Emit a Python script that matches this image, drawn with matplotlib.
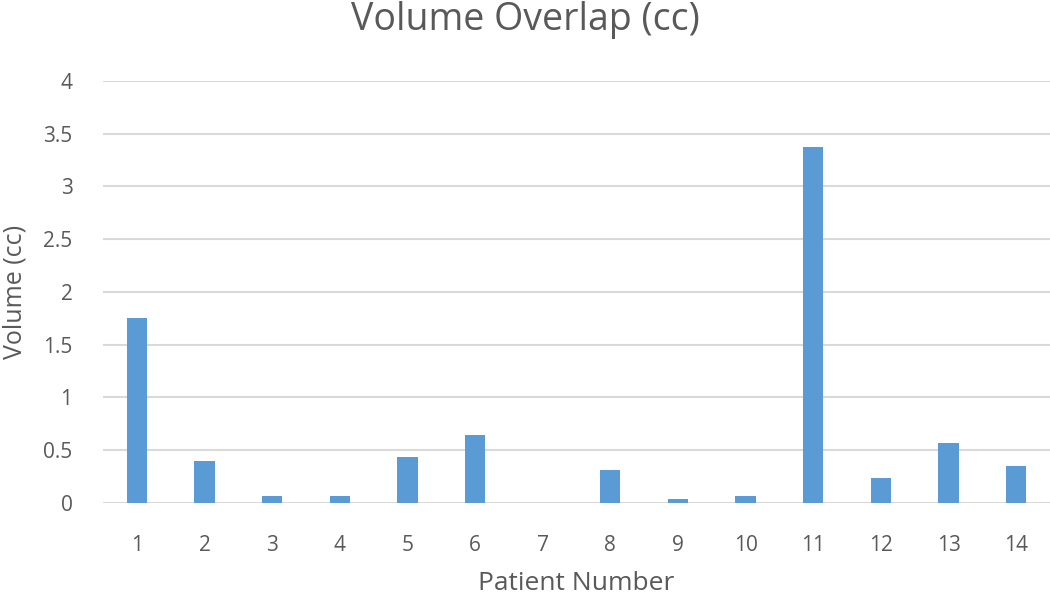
import matplotlib.pyplot as plt
import numpy as np

patients = [str(i) for i in range(1, 15)]
volumes = [1.75, 0.40, 0.07, 0.07, 0.44, 0.64, 0.0, 0.31, 0.04, 0.07, 3.37, 0.24, 0.57, 0.35]
y_ticks = [0, 0.5, 1, 1.5, 2, 2.5, 3, 3.5, 4]
y_tick_labels = ['0', '0.5', '1', '1.5', '2', '2.5', '3', '3.5', '4']

text_color = '#595959'
plt.rcParams['font.family'] = ['Open Sans', 'DejaVu Sans']

fig = plt.figure(figsize=(10.5, 5.97), dpi=100)
ax = fig.add_axes([0.0981, 0.1575, 0.9019, 0.7069])

x = np.arange(len(patients))
ax.bar(x, volumes, width=0.3, color='#5B9BD5', zorder=3)

ax.set_xlim(-0.5, len(patients) - 0.5)
ax.set_ylim(0, 4)
ax.set_yticks(y_ticks)
ax.set_yticklabels(y_tick_labels)
ax.set_xticks(x)
ax.set_xticklabels(patients)
ax.yaxis.grid(True, color='#D9D9D9', linewidth=1.5, zorder=0)
for s in ax.spines.values():
    s.set_visible(False)
ax.tick_params(axis='both', length=0, labelsize=15, labelcolor=text_color)
ax.tick_params(axis='x', pad=23)
ax.tick_params(axis='y', pad=22)

fig.text(0.5, 1 - 20 / 597, 'Volume Overlap (cc)', fontsize=27, color=text_color,
         ha='center', va='center')
ax.set_xlabel('Patient Number', fontsize=19, color=text_color, va='center')
ax.xaxis.set_label_coords(0.5, -0.19)
ax.set_ylabel('Volume (cc)', fontsize=18, color=text_color, va='center')
ax.yaxis.set_label_coords(-0.093, 0.5)

fig.savefig('out.png', dpi=100)
